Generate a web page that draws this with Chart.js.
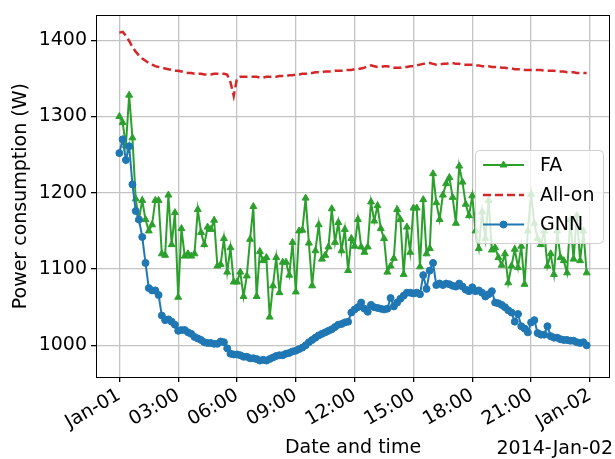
<!DOCTYPE html>
<html>
<head>
<meta charset="utf-8">
<script src="https://cdn.jsdelivr.net/npm/chart.js@4.4.0/dist/chart.umd.min.js"></script>
<style>
  html, body { margin: 0; padding: 0; background: #ffffff; }
  #wrap { width: 615px; height: 459px; position: relative; }
</style>
</head>
<body>
<div id="wrap"><canvas id="c" width="615" height="459"></canvas></div>
<script>
// Power consumption over one day, sampled every 10 minutes (00:00 .. 23:50)
const fa = [
  1300, 1292, 1262, 1328, 1272, 1192, 1165, 1190, 1165, 1150, 1158, 1190,
  1190, 1120, 1118, 1197, 1132, 1174, 1063, 1153, 1117, 1120, 1117, 1120,
  1178, 1148, 1132, 1155, 1152, 1164, 1104, 1106, 1140, 1096, 1128, 1083,
  1083, 1096, 1064, 1091, 1139, 1182, 1064, 1123, 1111, 1115, 1037, 1078,
  1115, 1069, 1109, 1109, 1092, 1135, 1070, 1150, 1151, 1193, 1134, 1078,
  1124, 1158, 1113, 1118, 1129, 1179, 1135, 1161, 1124, 1152, 1098, 1140,
  1130, 1165, 1129, 1122, 1129, 1188, 1163, 1183, 1153, 1140, 1096, 1104,
  1114, 1178, 1165, 1093, 1155, 1122, 1180, 1180, 1103, 1191, 1120, 1127,
  1225, 1187, 1165, 1197, 1212, 1220, 1194, 1160, 1235, 1214, 1185, 1170,
  1196, 1150, 1127, 1175, 1140, 1190, 1125, 1128, 1115, 1105, 1120, 1082,
  1104, 1126, 1102, 1130, 1080, 1150, 1198, 1160, 1140, 1132, 1150, 1104,
  1120, 1093, 1150, 1115, 1111, 1095, 1165, 1113, 1170, 1111, 1150, 1095
];

const allOn = [
  1410, 1411, 1406, 1399, 1391, 1385, 1380, 1376, 1373, 1370, 1368, 1366,
  1365, 1364, 1363, 1362, 1361, 1360, 1360, 1359, 1358, 1357, 1357, 1356,
  1356, 1356, 1355, 1355, 1355, 1356, 1356, 1356, 1356, 1355, 1345, 1327,
  1350, 1352, 1352, 1352, 1352, 1352, 1352, 1351, 1351, 1352, 1352, 1352,
  1352, 1353, 1353, 1353, 1354, 1354, 1355, 1355, 1356, 1356, 1357, 1357,
  1358, 1358, 1358, 1359, 1359, 1359, 1360, 1360, 1360, 1361, 1361, 1361,
  1362, 1362, 1363, 1364, 1366, 1367, 1366, 1365, 1365, 1366, 1366, 1365,
  1364, 1364, 1364, 1365, 1365, 1366, 1366, 1367, 1368, 1369, 1370, 1370,
  1369, 1368, 1368, 1369, 1369, 1370, 1370, 1369, 1369, 1368, 1368, 1368,
  1368, 1367, 1367, 1366, 1366, 1366, 1365, 1365, 1365, 1364, 1364, 1363,
  1363, 1362, 1362, 1362, 1361, 1361, 1361, 1361, 1361, 1361, 1360, 1360,
  1360, 1360, 1359, 1359, 1359, 1358, 1358, 1358, 1357, 1357, 1357, 1357
];

const gnn = [
  1252, 1270, 1243, 1261, 1211, 1176, 1165, 1142, 1108, 1075, 1072, 1072,
  1066, 1039, 1033, 1034, 1031, 1027, 1019, 1020, 1020, 1017, 1015, 1011,
  1009, 1007, 1004, 1003, 1003, 1002, 1002, 1005, 1004,  996,  989,  988,
   988,  987,  985,  985,  983,  983,  982,  980,  981,  980,  982,  984,
   986,  987,  987,  989,  990,  992,  993,  995,  997, 1000, 1004, 1007,
  1010, 1013, 1015, 1017, 1019, 1021, 1024, 1027, 1028, 1030, 1031, 1043,
  1047, 1050, 1056, 1048, 1044, 1053, 1050, 1049, 1048, 1047, 1048, 1062,
  1051, 1056, 1061, 1065, 1069, 1069, 1068, 1069, 1067, 1092, 1074, 1098,
  1108, 1079, 1081, 1079, 1081, 1080, 1078, 1077, 1081, 1077, 1073, 1071,
  1076, 1071, 1072, 1069, 1064, 1067, 1071, 1056, 1055, 1053, 1050, 1046,
  1043, 1031, 1041, 1025, 1022, 1017, 1030, 1033, 1016, 1014, 1014, 1025,
  1012, 1010, 1010, 1008, 1007, 1007, 1006, 1006, 1004, 1003, 1004, 1000
];

// x positions in hours since midnight, one sample every 10 minutes
const stepMinutes = 10;
const hours = fa.map((_, i) => i * stepMinutes / 60);

const tickHours = [0, 3, 6, 9, 12, 15, 18, 21, 24];
const tickLabels = ['Jan-01', '03:00', '06:00', '09:00', '12:00', '15:00', '18:00', '21:00', 'Jan-02'];
const offsetLabel = '2014-Jan-02';
const yTicks = [1000, 1100, 1200, 1300, 1400];

const FONT = 'DejaVu Sans';
const FS = 19;
const GREEN = '#2ca02c', RED = '#d62728', BLUE = '#1f77b4';
const GRID = '#c4c4c4';

// 5% margins around the data, like a default autoscaled axis
function paddedRange(vals) {
  const lo = Math.min(...vals), hi = Math.max(...vals);
  const m = (hi - lo) * 0.05;
  return [lo - m, hi + m];
}
const [xMin, xMax] = paddedRange(hours);
const [yMin, yMax] = paddedRange(fa.concat(allOn, gnn));

const pts = arr => arr.map((v, i) => ({ x: hours[i], y: v }));

const frameAndText = {
  id: 'frameAndText',
  afterDraw(chart) {
    const { ctx, chartArea: a } = chart;
    ctx.save();
    ctx.strokeStyle = '#000';
    ctx.lineWidth = 1;
    ctx.strokeRect(Math.round(a.left) + 0.5, Math.round(a.top) + 0.5,
                   Math.round(a.right - a.left) - 1, Math.round(a.bottom - a.top));
    ctx.fillStyle = '#000';
    ctx.font = FS + 'px "' + FONT + '"';
    ctx.textAlign = 'right';
    ctx.textBaseline = 'alphabetic';
    ctx.fillText(offsetLabel, 613, 454);
    ctx.restore();

    // legend box
    const bx = 475.5, by = 150.5, bw = 128, bh = 93, r = 4;
    ctx.save();
    ctx.beginPath();
    ctx.moveTo(bx + r, by);
    ctx.arcTo(bx + bw, by, bx + bw, by + bh, r);
    ctx.arcTo(bx + bw, by + bh, bx, by + bh, r);
    ctx.arcTo(bx, by + bh, bx, by, r);
    ctx.arcTo(bx, by, bx + bw, by, r);
    ctx.closePath();
    ctx.fillStyle = 'rgba(255,255,255,0.8)';
    ctx.fill();
    ctx.strokeStyle = '#d0d0d0';
    ctx.lineWidth = 1;
    ctx.stroke();

    const rows = [165, 195, 224.5];
    chart.data.datasets.forEach((ds, k) => {
      const y = rows[k];
      ctx.save();
      ctx.strokeStyle = ds.borderColor;
      ctx.lineWidth = ds.borderWidth;
      ctx.setLineDash(ds.borderDash || []);
      ctx.beginPath();
      ctx.moveTo(483, y);
      ctx.lineTo(524, y);
      ctx.stroke();
      ctx.restore();
      if (ds.pointRadius > 0) {
        ctx.save();
        ctx.fillStyle = ds.pointBackgroundColor;
        ctx.strokeStyle = ds.pointBorderColor;
        Chart.helpers.drawPoint(ctx, {
          pointStyle: ds.pointStyle, radius: ds.pointRadius, rotation: 0, borderWidth: 1
        }, 503.5, y);
        ctx.restore();
      }
      ctx.fillStyle = '#000';
      ctx.font = FS + 'px "' + FONT + '"';
      ctx.textAlign = 'left';
      ctx.textBaseline = 'middle';
      ctx.fillText(ds.label, 540, y + 1);
    });
    ctx.restore();
  }
};

new Chart(document.getElementById('c'), {
  type: 'line',
  data: {
    datasets: [
      {
        label: 'FA', data: pts(fa), order: 2,
        borderColor: GREEN, borderWidth: 2,
        pointStyle: 'triangle', pointRadius: 4,
        pointBackgroundColor: GREEN, pointBorderColor: GREEN, pointBorderWidth: 1
      },
      {
        label: 'All-on', data: pts(allOn), order: 1,
        borderColor: RED, borderWidth: 2.5, borderDash: [8, 4],
        pointRadius: 0
      },
      {
        label: 'GNN', data: pts(gnn), order: 0,
        borderColor: BLUE, borderWidth: 2,
        pointStyle: 'circle', pointRadius: 3.5,
        pointBackgroundColor: BLUE, pointBorderColor: BLUE, pointBorderWidth: 1
      }
    ]
  },
  options: {
    responsive: false,
    animation: false,
    devicePixelRatio: 1,
    layout: { padding: { top: 15, right: 3, left: 0, bottom: 0 } },
    plugins: { legend: { display: false }, tooltip: { enabled: false } },
    elements: { line: { tension: 0 } },
    scales: {
      x: {
        type: 'linear', min: xMin, max: xMax,
        afterBuildTicks: s => { s.ticks = tickHours.map(v => ({ value: v })); },
        afterFit: s => { s.height = 82; },
        grid: { color: GRID, lineWidth: 1.3, tickColor: '#000', tickLength: 5, drawTicks: true },
        border: { display: false },
        ticks: {
          autoSkip: false, minRotation: 30, maxRotation: 30, padding: 2,
          color: '#000', font: { family: FONT, size: FS },
          callback: v => tickLabels[tickHours.indexOf(v)]
        },
        title: { display: true, text: 'Date and time', color: '#000',
                 font: { family: FONT, size: FS }, padding: { top: 0, bottom: 0 } }
      },
      y: {
        type: 'linear', min: yMin, max: yMax,
        afterBuildTicks: s => { s.ticks = yTicks.map(v => ({ value: v })); },
        afterFit: s => { s.width = 96; },
        grid: { color: GRID, lineWidth: 1.3, tickColor: '#000', tickLength: 5 },
        border: { display: false },
        ticks: { color: '#000', padding: 4, font: { family: FONT, size: FS },
                 callback: v => String(v) },
        title: { display: true, text: 'Power consumption (W)', color: '#000',
                 font: { family: FONT, size: FS }, padding: { top: 10, bottom: 0 } }
      }
    }
  },
  plugins: [frameAndText]
});
</script>
</body>
</html>
